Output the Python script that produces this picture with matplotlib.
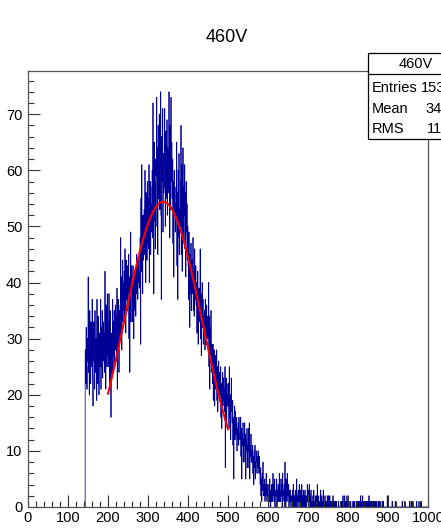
import numpy as np
import matplotlib
matplotlib.use("Agg")
import matplotlib.pyplot as plt
from matplotlib.patches import Rectangle
from matplotlib.lines import Line2D
from matplotlib.ticker import MultipleLocator

plt.rcParams['font.family'] = ['Liberation Sans', 'DejaVu Sans']

TITLE = "460V"

# Histogram: 1 unit wide bins from FIRST_BIN up to 1000
FIRST_BIN = 143
X_RANGE = (0, 1000)
Y_MAX = 77.7

# bin contents, 143..279
counts_rise = [
    28, 22, 32, 25, 21, 30, 26,
    41, 24, 30, 20, 35, 27, 22, 33, 29, 25,
    37, 23, 18, 29, 33, 26, 21, 35, 28, 24,
    30, 19, 37, 26, 22, 34, 28, 20, 31, 25,
    27, 37, 21, 32, 25, 35, 23, 29, 33, 26,
    31, 24, 42, 28, 21, 36, 30, 25, 38, 27,
    33, 25, 38, 29, 22, 35, 27, 16, 31, 24,
    29, 37, 24, 33, 27, 35, 25, 31, 36, 28,
    34, 26, 39, 21, 32, 37, 28, 24, 35, 30,
    36, 48, 30, 41, 28, 38, 44, 33, 40, 35,
    42, 34, 46, 38, 31, 44, 37, 40, 35, 43,
    38, 45, 30, 41, 24, 36, 49, 33, 43, 39,
    40, 33, 43, 37, 30, 41, 35, 38, 42, 34,
    41, 45, 38, 43, 37, 44, 40, 42, 39, 45,
]

# bin contents, 280..459
counts_peak = [
    48, 29, 55, 42, 61, 46, 38, 52, 44, 50,
    53, 45, 60, 48, 40, 56, 50, 44, 58, 47,
    55, 46, 61, 40, 52, 58, 45, 54, 49, 57,
    60, 48, 72, 54, 38, 65, 51, 58, 46, 62,
    59, 73, 50, 64, 45, 68, 55, 62, 70, 53,
    61, 74, 52, 37, 66, 58, 71, 49, 63, 56,
    57, 71, 63, 50, 67, 55, 60, 69, 52, 64,
    62, 56, 74, 59, 48, 68, 53, 73, 58, 65,
    55, 62, 47, 58, 41, 60, 52, 57, 49, 54,
    51, 65, 43, 56, 37, 60, 48, 63, 45, 53,
    50, 58, 68, 45, 61, 42, 55, 64, 48, 57,
    52, 61, 46, 56, 41, 58, 49, 54, 44, 50,
    43, 37, 49, 40, 32, 45, 38, 47, 35, 41,
    44, 38, 48, 35, 42, 34, 46, 40, 37, 43,
    36, 40, 31, 38, 42, 29, 35, 39, 33, 37,
    46, 30, 38, 27, 35, 40, 32, 37, 29, 34,
    31, 35, 28, 37, 33, 29, 36, 30, 34, 32,
    30, 40, 25, 34, 21, 32, 27, 35, 24, 29,
]

# bin contents, 460..699
counts_fall = [
    26, 22, 29, 19, 25, 28, 18, 24, 27, 21,
    23, 28, 19, 25, 17, 22, 26, 20, 24, 21,
    20, 25, 16, 22, 14, 21, 24, 18, 23, 19,
    21, 17, 25, 7, 19, 23, 15, 22, 18, 20,
    18, 22, 14, 25, 16, 20, 12, 19, 23, 17,
    15, 19, 11, 16, 5, 14, 18, 12, 17, 13,
    13, 16, 10, 14, 12, 15, 11, 16, 13, 12,
    12, 16, 9, 14, 5, 13, 11, 15, 8, 12,
    11, 15, 8, 13, 5, 12, 10, 14, 7, 11,
    10, 14, 7, 15, 5, 11, 9, 13, 8, 10,
    8, 11, 6, 9, 4, 10, 7, 11, 5, 8,
    8, 10, 6, 9, 7, 10, 8, 6, 9, 7,
    4, 7, 2, 5, 1, 6, 3, 8, 4, 2,
    3, 5, 1, 4, 2, 6, 3, 1, 4, 2,
    2, 0, 4, 1, 5, 2, 0, 3, 1, 4,
    3, 1, 6, 2, 4, 1, 5, 0, 3, 2,
    2, 5, 0, 3, 1, 4, 1, 2, 6, 1,
    3, 1, 5, 2, 4, 0, 6, 1, 3, 2,
    4, 1, 8, 2, 0, 5, 2, 1, 6, 2,
    2, 4, 0, 3, 1, 3, 1, 0, 2, 1,
    1, 3, 0, 4, 1, 0, 2, 1, 3, 0,
    2, 5, 0, 2, 1, 3, 1, 0, 4, 1,
    1, 3, 0, 2, 4, 0, 2, 1, 3, 0,
    2, 0, 3, 1, 0, 2, 0, 1, 4, 1,
]

# bin contents, 700..999
counts_tail = [
    1, 3, 0, 4, 1, 2, 0, 3, 0, 1,
    1, 0, 2, 0, 3, 0, 1, 0, 2, 0,
    0, 2, 0, 4, 1, 0, 2, 0, 1, 0,
    1, 3, 0, 0, 2, 0, 1, 0, 3, 0,
    0, 0, 2, 1, 0, 1, 0, 0, 2, 0,
    0, 2, 0, 0, 2, 0, 0, 1, 0, 0,
    1, 0, 2, 0, 0, 1, 0, 0, 0, 1,
    0, 1, 0, 0, 0, 0, 1, 0, 0, 0,
    0, 0, 1, 0, 1, 0, 0, 2, 0, 0,
    0, 2, 0, 0, 1, 0, 0, 2, 0, 0,
    1, 0, 1, 0, 0, 0, 1, 0, 0, 0,
    0, 0, 1, 0, 0, 1, 0, 0, 0, 0,
    1, 0, 0, 1, 0, 1, 0, 0, 1, 0,
    0, 2, 0, 1, 0, 0, 2, 1, 0, 1,
    0, 1, 0, 0, 1, 0, 0, 1, 0, 0,
    1, 0, 2, 0, 1, 0, 0, 1, 0, 1,
    0, 0, 1, 0, 0, 1, 0, 0, 1, 0,
    0, 1, 0, 0, 0, 1, 0, 0, 0, 1,
    0, 0, 0, 0, 0, 1, 1, 0, 1, 0,
    0, 0, 0, 0, 0, 0, 0, 0, 2, 0,
    0, 0, 0, 0, 0, 0, 0, 0, 0, 0,
    1, 0, 0, 0, 0, 0, 0, 0, 1, 0,
    0, 0, 0, 0, 0, 0, 0, 0, 0, 0,
    0, 0, 0, 0, 0, 1, 0, 0, 0, 0,
    0, 0, 1, 0, 0, 0, 0, 0, 0, 0,
    0, 0, 0, 0, 1, 0, 0, 0, 1, 0,
    0, 0, 1, 0, 0, 0, 0, 0, 0, 0,
    0, 1, 0, 0, 0, 0, 0, 1, 0, 0,
    0, 0, 0, 1, 0, 0, 0, 0, 0, 0,
    0, 0, 0, 0, 0, 0, 0, 0, 0, 0,
]

# Gaussian fit result and its range
FIT_CONST = 54.4
FIT_MEAN = 338.0
FIT_SIGMA = 98.0
FIT_RANGE = (200, 500)

counts = np.array(counts_rise + counts_peak + counts_fall + counts_tail, dtype=float)
edges = np.arange(FIRST_BIN, FIRST_BIN + len(counts) + 1)
centers = 0.5 * (edges[:-1] + edges[1:])

entries = int(counts.sum())
mean = float((counts * centers).sum() / counts.sum())
rms = float(np.sqrt((counts * (centers - mean) ** 2).sum() / counts.sum()))

W, H = 441, 531
fig = plt.figure(figsize=(W / 100, H / 100), dpi=100)
fig.patch.set_facecolor('white')

ax = fig.add_axes([28 / W, 1 - 507 / H, 400 / W, (507 - 71) / H])
ax.stairs(counts, edges, color='#000099', lw=0.55, baseline=0)

xf = np.linspace(FIT_RANGE[0], FIT_RANGE[1], 300)
yf = FIT_CONST * np.exp(-0.5 * ((xf - FIT_MEAN) / FIT_SIGMA) ** 2)
ax.plot(xf, yf, color='#ff0000', lw=1.5)

ax.set_xlim(*X_RANGE)
ax.set_ylim(0, Y_MAX)

ax.xaxis.set_major_locator(MultipleLocator(100))
ax.xaxis.set_minor_locator(MultipleLocator(20))
ax.yaxis.set_major_locator(MultipleLocator(10))
ax.yaxis.set_minor_locator(MultipleLocator(2))
ax.tick_params(axis='both', which='both', direction='in', top=False, right=False,
               labelsize=10.5, color='#333333', width=0.8)
ax.tick_params(axis='both', which='major', length=8.5, pad=3)
ax.tick_params(axis='both', which='minor', length=4)
ax.tick_params(axis='y', which='major', pad=4)
for s in ax.spines.values():
    s.set_color('#555555')
    s.set_linewidth(0.9)

fig.text(227 / W, 1 - 37 / H, TITLE, ha='center', va='center', fontsize=13)

# statistics box
bx0, bx1 = 368, 464
by0, by1, bsep = 53, 139, 74
def fx(p):
    return p / W
def fy(p):
    return 1 - p / H

fig.add_artist(Rectangle((fx(bx0), fy(by1)), fx(bx1 - bx0), (by1 - by0) / H,
                         facecolor='white', edgecolor='black', lw=0.9,
                         transform=fig.transFigure))
fig.add_artist(Line2D([fx(bx0), fx(bx1)], [fy(bsep), fy(bsep)], color='black', lw=0.9,
                      transform=fig.transFigure))
fig.text(fx((bx0 + bx1) / 2), fy(63.5), TITLE, ha='center', va='center', fontsize=10.5)
rows = [("Entries", f"{entries}", 88), ("Mean", f"{mean:.1f}", 109), ("RMS", f"{rms:.1f}", 129)]
for lab, val, yy in rows:
    fig.text(fx(bx0 + 4), fy(yy), lab, ha='left', va='center', fontsize=10.5)
    fig.text(fx(bx1 - 2), fy(yy), val, ha='right', va='center', fontsize=10.5)

fig.savefig("out.png", dpi=100, facecolor='white')
